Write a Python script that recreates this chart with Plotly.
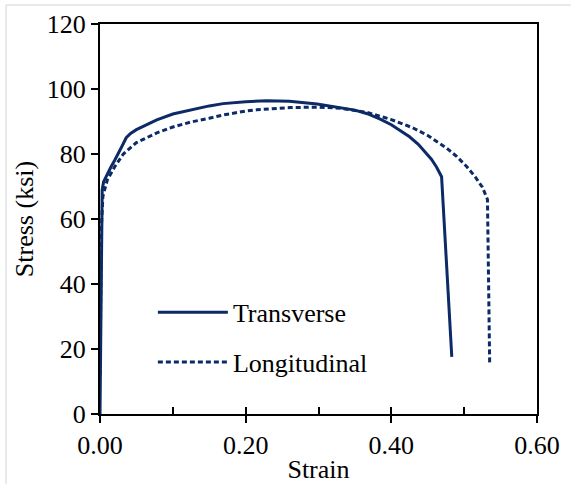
import plotly.graph_objects as go

# Data
trans_strain = [0, 0.001, 0.002, 0.003, 0.005, 0.01, 0.015, 0.02, 0.025, 0.03, 0.036, 0.042,
                0.05, 0.06, 0.078, 0.1, 0.124, 0.15, 0.169, 0.2, 0.229, 0.26, 0.298, 0.33,
                0.35, 0.367, 0.384, 0.4, 0.413, 0.425, 0.437, 0.447, 0.455, 0.462, 0.469, 0.483]
trans_stress = [0, 30, 60, 69, 71.5, 74, 76, 78, 80, 82.3, 85, 86.3,
                87.5, 88.6, 90.5, 92.3, 93.6, 94.8, 95.5, 96.1, 96.4, 96.2, 95.4, 94.3,
                93.5, 92.4, 90.8, 89.0, 87.2, 85.3, 83.0, 80.6, 78.4, 76.0, 73.0, 17.6]

long_strain = [0, 0.001, 0.002, 0.004, 0.01, 0.02, 0.032, 0.05, 0.078, 0.1, 0.124, 0.15,
               0.169, 0.2, 0.215, 0.261, 0.3, 0.33, 0.367, 0.4, 0.43, 0.45, 0.476, 0.49,
               0.504, 0.515, 0.525, 0.532, 0.535]
long_stress = [12, 35, 58, 67, 72, 76, 80, 83.5, 86.5, 88.3, 89.8, 91,
               92, 93.2, 93.6, 94.3, 94.4, 94.1, 92.8, 90.6, 88.0, 85.7, 81.8, 79.2,
               76.0, 73.0, 69.8, 66.0, 15.7]

x_ticks = [0.0, 0.2, 0.4, 0.6]
x_ticklabels = ["0.00", "0.20", "0.40", "0.60"]
y_ticks = [0, 20, 40, 60, 80, 100, 120]

NAVY = "#0b2a66"
FONT = "Times New Roman, Liberation Serif, serif"
FS = 26

fig = go.Figure()
fig.add_trace(go.Scatter(x=trans_strain, y=trans_stress, mode="lines", name="Transverse",
                         line=dict(color=NAVY, width=3), legendgroup="a"))
fig.add_trace(go.Scatter(x=long_strain, y=long_stress, mode="lines", name="Longitudinal",
                         line=dict(color=NAVY, width=3, dash="5px,3px"), legendgroup="b"))
# helper for inside minor ticks
fig.add_trace(go.Scatter(x=[], y=[], xaxis="x2", showlegend=False, hoverinfo="skip"))

fig.update_layout(
    width=571, height=484,
    margin=dict(l=100, r=34, t=24, b=70),
    paper_bgcolor="white", plot_bgcolor="white",
    font=dict(family=FONT, size=FS, color="black"),
    showlegend=True,
    legend=dict(x=0.121, y=0.321, xanchor="left", yanchor="top",
                bgcolor="rgba(0,0,0,0)", font=dict(size=FS, family=FONT),
                tracegroupgap=13, itemwidth=70),
    xaxis=dict(range=[0, 0.6], tickvals=x_ticks, ticktext=x_ticklabels,
               ticks="outside", ticklen=7, tickwidth=1.5, tickcolor="black",
               showline=True, linecolor="black", linewidth=2, mirror=True,
               showgrid=False, zeroline=False, automargin=False,
               title=dict(text="Strain", standoff=2, font=dict(size=FS, family=FONT))),
    xaxis2=dict(range=[0, 0.6], overlaying="x", anchor="y", side="bottom", dtick=0.1, tick0=0,
                ticks="inside", ticklen=7, tickwidth=1.5, tickcolor="black", automargin=False,
                showticklabels=False, showline=False, showgrid=False, zeroline=False),
    yaxis=dict(range=[0, 120], tickvals=y_ticks,
               ticks="outside", ticklen=7, tickwidth=1.5, tickcolor="black",
               showline=True, linecolor="black", linewidth=2, mirror=True,
               showgrid=False, zeroline=False, automargin=False,
               title=dict(text="Stress (ksi)", standoff=6, font=dict(size=FS, family=FONT))),
    shapes=[
        dict(type="line", xref="paper", yref="paper", x0=-0.2151, x1=-0.2151, y0=1.0487, y1=-0.2,
             line=dict(color="#d4d4d4", width=1)),
        dict(type="line", xref="paper", yref="paper", x0=-0.2151, x1=1.1, y0=1.0487, y1=1.0487,
             line=dict(color="#d4d4d4", width=1)),
    ],
)

fig.write_html("out.html", config={"displayModeBar": False},
               post_script="document.body.style.margin='0px';")
